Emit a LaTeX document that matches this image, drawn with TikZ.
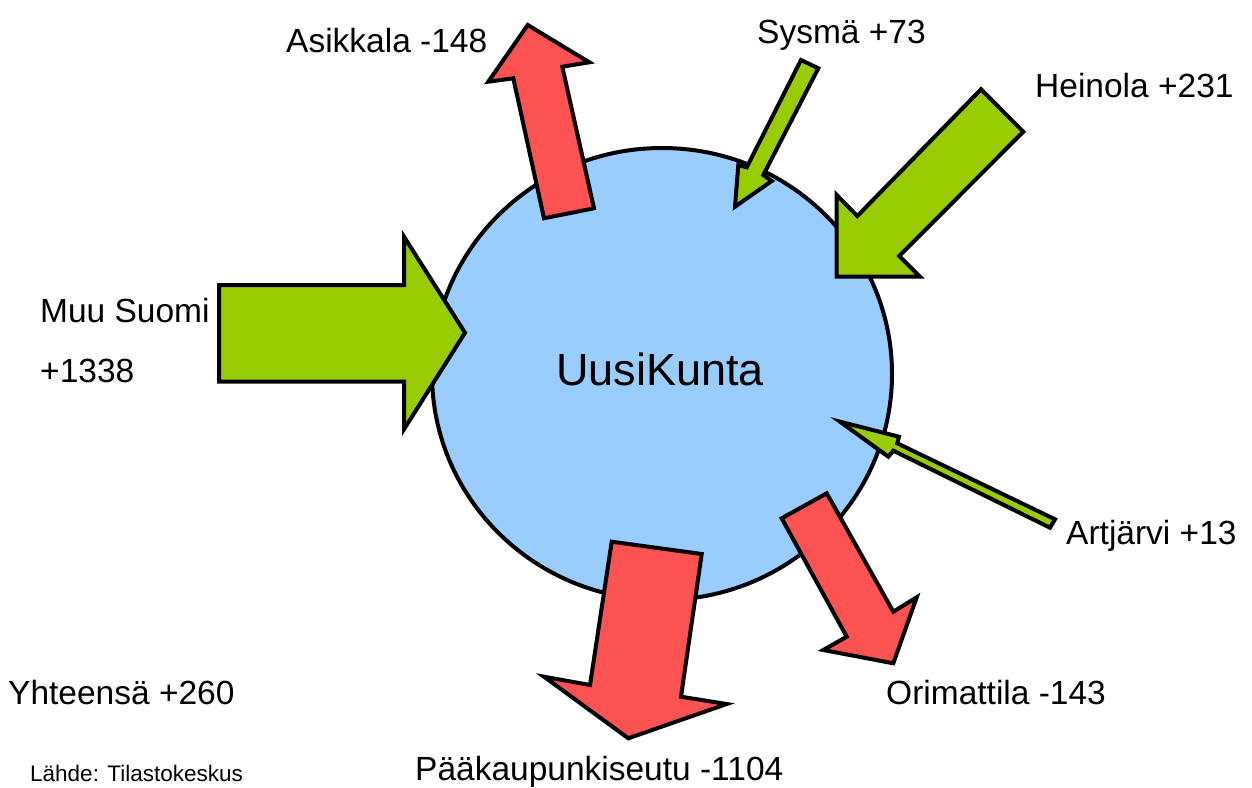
\documentclass[tikz,border=0pt]{standalone}
\usepackage{fontspec}
\setmainfont{Liberation Sans}
\usetikzlibrary{shapes.geometric}
\definecolor{redarrow}{RGB}{255,82,82}
\definecolor{greenarrow}{RGB}{153,204,0}
\definecolor{bluecircle}{RGB}{153,204,255}
\tikzset{
  outarrow/.style={draw=black, fill=redarrow, line width=4pt, line join=miter},
  inarrow/.style={draw=black, fill=greenarrow, line width=4pt, line join=miter},
  lbl/.style={anchor=base west, inner sep=0pt, font=\fontsize{33.5}{40}\selectfont},
  hub/.style={ellipse, draw=black, fill=bluecircle, line width=4pt, inner sep=0pt,
    minimum width=460pt, minimum height=452pt},
}
\begin{document}
\begin{tikzpicture}[x=1pt,y=-1pt]
\useasboundingbox (0,0) rectangle (1252,787);
% central municipality
\node[hub] (uusi) at (662,374) {};
\node[anchor=base west, inner sep=0pt, font=\fontsize{45}{54}\selectfont] (uusilbl) at (556,385) {UusiKunta};
% outgoing (red) arrows
\draw[outarrow] (527.7,25) -- (589.3,62.3) -- (562.3,66.7) -- (594,208.3)
  -- (544,218.3) -- (513.3,78.3) -- (488.3,81.7) -- cycle;
\draw[outarrow] (781.7,518.3) -- (826.7,493.3) -- (893.3,611.7) -- (916.7,597.3)
  -- (893.3,663.3) -- (823.3,650) -- (846.7,636.7) -- cycle;
\draw[outarrow] (611.7,541.7) -- (701.7,554) -- (681,696.7) -- (726.7,704)
  -- (628.3,738.3) -- (544,676.7) -- (590,685) -- cycle;
% incoming (green) arrows
\draw[inarrow] (801,60) -- (818.3,68.3) -- (763.3,175) -- (771.7,181)
  -- (735,206.7) -- (738.3,165) -- (746.7,167.3) -- cycle;
\draw[inarrow] (981,89.3) -- (1023.3,131.7) -- (899.3,256) -- (920,276.7)
  -- (836.7,276.7) -- (836.7,195) -- (857.3,216) -- cycle;
\draw[inarrow] (219,285) -- (404,285) -- (404,236.7) -- (465,332.7)
  -- (404,429.3) -- (404,381.7) -- (219,381.7) -- cycle;
\draw[inarrow] (1055,519.3) -- (1050,527.7) -- (893.3,450.7) -- (888.3,456.7)
  -- (840,421.7) -- (899,436.7) -- (897.3,443.3) -- cycle;
% labels
\node[lbl] (asikkala) at (286,52) {Asikkala -148};
\node[lbl] (sysma) at (757,43) {Sysmä +73};
\node[lbl] (heinola) at (1035,97) {Heinola +231};
\node[lbl] (muu) at (40,322) {Muu Suomi};
\node[lbl] (muunum) at (40,382) {+1338};
\node[lbl] (artjarvi) at (1066,544) {Artjärvi +13};
\node[lbl] (orimattila) at (886,704) {Orimattila -143};
\node[lbl] (yhteensa) at (8,704) {Yhteensä +260};
\node[lbl] (paakaupunki) at (415,780) {Pääkaupunkiseutu -1104};
\node[anchor=base west, inner sep=0pt, font=\fontsize{22.5}{27}\selectfont] (lahde) at (30,781) {Lähde: Tilastokeskus};
\end{tikzpicture}
\end{document}
